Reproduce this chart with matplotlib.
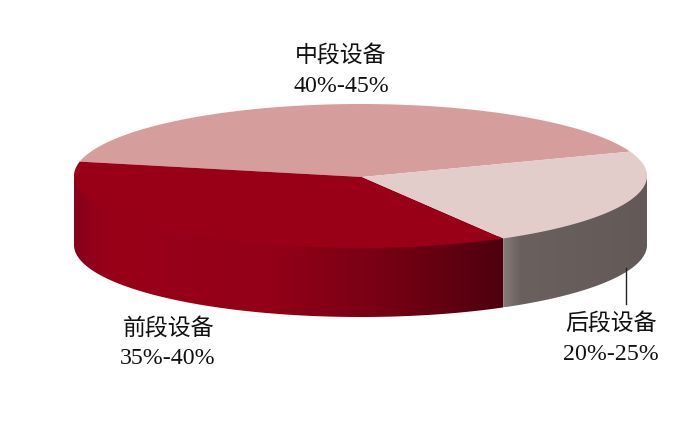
import numpy as np
import matplotlib
matplotlib.use("Agg")
import matplotlib.pyplot as plt
from matplotlib.colors import LinearSegmentedColormap
from matplotlib.patches import Polygon

plt.rcParams['font.family'] = ['Liberation Serif', 'Noto Sans CJK SC', 'DejaVu Sans']

# data, counter clockwise from the upper right
names = ["中段设备", "前段设备", "后段设备"]
ranges = ["40%-45%", "35%-40%", "20%-25%"]
shares = [41.3, 36.5, 22.2]
top_colors = ["#D59E9C", "#990018", "#E2CDCB"]

# ellipse of the disc, in pixels
cx, cy, rx, ry, depth = 360.5, 176, 286.5, 72, 69
start = 19.8

fig = plt.figure(figsize=(6.98, 4.22), dpi=100, facecolor='w')
ax = fig.add_axes([0, 0, 1, 1])
ax.set_xlim(0, 698)
ax.set_ylim(422, 0)
ax.axis('off')


def rim(a0, a1, dy=0):
    t = np.radians(np.linspace(a0, a1, 200))
    return np.column_stack([cx + rx*np.cos(t), cy + dy - ry*np.sin(t)])


# slice boundaries
bounds = [start]
for s in shares:
    bounds.append(bounds[-1] + s/sum(shares)*360)

# side walls with the horizontal shading, top edge runs a bit under the top face
red_map = LinearSegmentedColormap.from_list("red", [(0, "#85001A"), (0.04, "#94001A"), (0.1, "#990018"),
                                                    (0.45, "#930018"), (0.7, "#7A0014"), (0.92, "#5A0010"),
                                                    (1, "#4E000E")])
grey_map = LinearSegmentedColormap.from_list("grey", [(0, "#857B79"), (0.12, "#6A605E"), (1, "#635957")])
walls = [(180, bounds[2], red_map), (bounds[2], 360, grey_map)]
for a0, a1, cmap in walls:
    edge = np.vstack([rim(a0, a1, -3), rim(a1, a0, depth)])
    x0, x1 = edge[:, 0].min(), edge[:, 0].max()
    y0, y1 = edge[:, 1].min(), edge[:, 1].max()
    im = ax.imshow(np.linspace(0, 1, 256).reshape(1, -1), cmap=cmap, aspect='auto',
                   extent=(x0, x1, y1, y0), zorder=1)
    im.set_clip_path(Polygon(edge, transform=ax.transData))
ax.set_xlim(0, 698)
ax.set_ylim(422, 0)

# top face
for i in range(3):
    pts = np.vstack([[cx + 1.5, cy + 1], rim(bounds[i], bounds[i+1])])
    ax.add_patch(Polygon(pts, closed=True, facecolor=top_colors[i], edgecolor='none', zorder=2))

# leader line of the right label
ax.plot([626, 626], [268, 304], color='#222222', lw=1.0, zorder=3)

# labels
label_pos = [(341, 56, 86), (168, 329, 359), (611, 324, 354)]
for name, rng, (x, y1, y2) in zip(names, ranges, label_pos):
    ax.text(x, y1, name, fontsize=16.5, ha='center', va='center', color='#111111')
    ax.text(x, y2, rng, fontsize=17.2, ha='center', va='center', color='#111111')

fig.savefig("out.png", dpi=100)
